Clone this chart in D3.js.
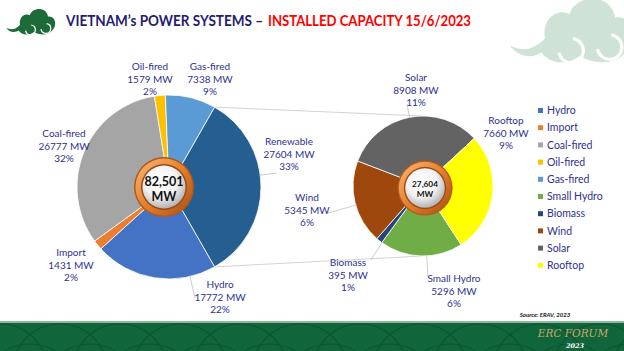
<!DOCTYPE html>
<html>
<head>
<meta charset="utf-8">
<script src="https://cdn.jsdelivr.net/npm/d3@7"></script>
<style>
  html, body { margin: 0; padding: 0; background: #fff; }
  svg { display: block; font-family: Lato, "Open Sans", sans-serif; }
</style>
</head>
<body>
<svg id="chart" width="624" height="351"></svg>
<script>
// main pie
const mainNames = ["Hydro", "Import", "Coal-fired", "Oil-fired", "Gas-fired", "Renewable"];
const mainValues = [17772, 1431, 26777, 1579, 7338, 27604];
const mainPercents = ["22%", "2%", "32%", "2%", "9%", "33%"];

// renewable breakdown
const subNames = ["Small Hydro", "Biomass", "Wind", "Solar", "Rooftop"];
const subValues = [5296, 395, 5345, 8908, 7660];
const subPercents = ["6%", "1%", "6%", "11%", "9%"];

const legendNames = ["Hydro", "Import", "Coal-fired", "Oil-fired", "Gas-fired",
  "Small Hydro", "Biomass", "Wind", "Solar", "Rooftop"];

const totalLabel = ["82,501", "MW"];
const subTotalLabel = ["27,604", "MW"];

const colors = {
  "Hydro": "#4472c4", "Import": "#ed7d31", "Coal-fired": "#a5a5a5", "Oil-fired": "#ffc000",
  "Gas-fired": "#5b9bd5", "Renewable": "#255e91", "Small Hydro": "#70ad47",
  "Biomass": "#264478", "Wind": "#9e480e", "Solar": "#636363", "Rooftop": "#ffff00"
};

// label placement (layout only)
const labelPos = {
  "Oil-fired": [150, 66], "Gas-fired": [210, 66], "Coal-fired": [64, 133],
  "Renewable": [289, 141], "Import": [71, 252], "Hydro": [220, 284],
  "Wind": [307, 197], "Solar": [416, 77], "Rooftop": [506, 120],
  "Biomass": [348, 262], "Small Hydro": [454, 278]
};
const leaderFrom = {
  "Renewable": [277, 173], "Hydro": [195, 298], "Wind": [328, 213],
  "Solar": [407, 104], "Biomass": [371, 260], "Small Hydro": [428, 279]
};

const navy = "#2e3192";
const svg = d3.select("#chart");
const defs = svg.append("defs");

// ---------- background decorations ----------
function cloud(g, fill) {
  g.append("path")
    .attr("d", "M0,34 C8,38 14,36 20,30 C18,20 26,12 34,16 C38,4 58,4 60,18 C70,16 74,30 66,38 C60,46 46,44 40,40 C32,46 22,44 18,38 C12,42 4,40 0,34 Z")
    .attr("fill", fill);
  g.append("path").attr("d", "M28,38 A7,7 0 1 0 36,30").attr("fill", "none").attr("stroke", "#fff").attr("stroke-width", 1.8);
  g.append("path").attr("d", "M50,36 A7,7 0 1 0 58,28").attr("fill", "none").attr("stroke", "#fff").attr("stroke-width", 1.8);
}
cloud(svg.append("g").attr("transform", "translate(6,4) scale(0.7)"), "#1c6b38");
cloud(svg.append("g").attr("transform", "translate(510,-14) scale(1.75)"), "#cfe2d6");

// title
svg.append("text").attr("x", 66).attr("y", 26)
  .attr("textLength", 197).attr("lengthAdjust", "spacingAndGlyphs")
  .style("font-size", "15px").style("font-weight", "700").attr("fill", "#1f2170")
  .text("VIETNAM\u2019s POWER SYSTEMS \u2013");
svg.append("text").attr("x", 268).attr("y", 26)
  .attr("textLength", 203).attr("lengthAdjust", "spacingAndGlyphs")
  .style("font-size", "15px").style("font-weight", "700").attr("fill", "#ff0000")
  .text("INSTALLED CAPACITY 15/6/2023");

// footer band
const footClip = defs.append("clipPath").attr("id", "foot");
footClip.append("rect").attr("x", 0).attr("y", 323).attr("width", 624).attr("height", 28);
svg.append("rect").attr("x", 0).attr("y", 321).attr("width", 624).attr("height", 2).attr("fill", "#8db89b");
svg.append("rect").attr("x", 0).attr("y", 323).attr("width", 624).attr("height", 28).attr("fill", "#11653a");
const pat = svg.append("g").attr("clip-path", "url(#foot)");
d3.range(-1, 12).forEach(i => {
  pat.append("circle").attr("cx", i * 60).attr("cy", 372).attr("r", 48)
    .attr("fill", "none").attr("stroke", "#0b5530").attr("stroke-width", 1.2);
  pat.append("circle").attr("cx", i * 60 + 30).attr("cy", 392).attr("r", 48)
    .attr("fill", "none").attr("stroke", "#0b5530").attr("stroke-width", 1.2);
});
svg.append("text").attr("x", 573).attr("y", 337).attr("text-anchor", "middle")
  .style("font-family", "'DejaVu Serif', serif").style("font-style", "italic")
  .style("font-size", "10.5px").attr("fill", "#c9a86a").text("ERC FORUM");
svg.append("text").attr("x", 575).attr("y", 348).attr("text-anchor", "middle")
  .style("font-family", "'DejaVu Serif', serif").style("font-style", "italic").style("font-weight", "700")
  .style("font-size", "6.5px").attr("fill", "#ffffff").text("2023");

svg.append("text").attr("x", 545).attr("y", 317).attr("text-anchor", "middle")
  .style("font-size", "6px").style("font-style", "italic").style("font-weight", "700")
  .attr("fill", "#111").text("Source: ERAV, 2023");

// ---------- pies ----------
const main = { cx: 169, cy: 187, r: 92 };
const sub = { cx: 423, cy: 186, r: 70 };

const mainData = mainNames.map((n, i) => ({ name: n, value: mainValues[i], pct: mainPercents[i] }));
const subData = subNames.map((n, i) => ({ name: n, value: subValues[i], pct: subPercents[i] }));

// renewable slice centred on the right side
const renewShare = mainValues[5] / d3.sum(mainValues) * 2 * Math.PI;
const mainStart = Math.PI / 2 + renewShare / 2;
const mainArcs = d3.pie().sort(null).value(d => d.value)
  .startAngle(mainStart).endAngle(mainStart + 2 * Math.PI)(mainData);

const subStart = 147 * Math.PI / 180;
const subArcs = d3.pie().sort(null).value(d => d.value)
  .startAngle(subStart).endAngle(subStart + 2 * Math.PI)(subData);

const polar = (c, a, r) => [c.cx + r * Math.sin(a), c.cy - r * Math.cos(a)];

// connector lines between the pies
const renew = mainArcs[5];
const pTop = polar(main, renew.startAngle, main.r);
const pBot = polar(main, renew.endAngle, main.r);
svg.append("line").attr("x1", pTop[0]).attr("y1", pTop[1]).attr("x2", sub.cx).attr("y2", sub.cy - sub.r)
  .attr("stroke", "#c8c8c8").attr("stroke-width", 0.8);
svg.append("line").attr("x1", pBot[0]).attr("y1", pBot[1]).attr("x2", sub.cx).attr("y2", sub.cy + sub.r)
  .attr("stroke", "#c8c8c8").attr("stroke-width", 0.8);

function drawPie(c, arcs) {
  const arc = d3.arc().innerRadius(0).outerRadius(c.r);
  svg.append("g").attr("transform", `translate(${c.cx},${c.cy})`)
    .selectAll("path").data(arcs).join("path")
    .attr("d", arc)
    .attr("fill", d => colors[d.data.name])
    .attr("stroke", "#fff").attr("stroke-width", 0.8);
}
drawPie(main, mainArcs);
drawPie(sub, subArcs);

// leader lines
function leaders(c, arcs) {
  arcs.forEach(d => {
    const from = leaderFrom[d.data.name];
    if (!from) return;
    let a = Math.atan2(from[0] - c.cx, -(from[1] - c.cy));
    while (a < d.startAngle) a += 2 * Math.PI;
    while (a > d.endAngle) a -= 2 * Math.PI;
    a = Math.max(d.startAngle, Math.min(d.endAngle, a));
    const to = polar(c, a, c.r - 1);
    svg.append("line").attr("x1", from[0]).attr("y1", from[1]).attr("x2", to[0]).attr("y2", to[1])
      .attr("stroke", "#bfbfbf").attr("stroke-width", 0.8);
  });
}
leaders(main, mainArcs);
leaders(sub, subArcs);

// data labels
const fmt = d3.format("d");
function labels(arcs) {
  arcs.forEach(d => {
    const p = labelPos[d.data.name];
    const t = svg.append("text").attr("text-anchor", "middle")
      .style("font-size", "10px").attr("fill", navy);
    [d.data.name, `${fmt(d.data.value)} MW`, d.data.pct].forEach((s, i) => {
      t.append("tspan").attr("x", p[0]).attr("y", p[1] + 4 + i * 12.6).text(s);
    });
  });
}
labels(mainArcs);
labels(subArcs);

// centre badges
const rg = defs.append("linearGradient").attr("id", "ring").attr("x1", "0").attr("y1", "0").attr("x2", "1").attr("y2", "1");
rg.append("stop").attr("offset", "0").attr("stop-color", "#f8b978");
rg.append("stop").attr("offset", "0.5").attr("stop-color", "#e47f2c");
rg.append("stop").attr("offset", "1").attr("stop-color", "#a84e14");
const sg = defs.append("radialGradient").attr("id", "ball").attr("cx", "0.42").attr("cy", "0.35").attr("r", "0.7");
sg.append("stop").attr("offset", "0").attr("stop-color", "#ffffff");
sg.append("stop").attr("offset", "0.55").attr("stop-color", "#f2f2f2");
sg.append("stop").attr("offset", "1").attr("stop-color", "#a9a9a9");

function badge(x, y, s, lines, fs) {
  const g = svg.append("g").attr("transform", `translate(${x},${y}) scale(${s})`);
  g.append("circle").attr("r", 30).attr("fill", "#b5581a");
  g.append("circle").attr("r", 28.5).attr("fill", "url(#ring)");
  g.append("circle").attr("r", 23).attr("fill", "#9c4a15");
  g.append("circle").attr("r", 21.5).attr("fill", "url(#ball)");
  const t = g.append("text").attr("text-anchor", "middle").style("font-weight", "700")
    .style("font-size", fs + "px").attr("fill", "#111");
  lines.forEach((s2, i) => t.append("tspan").attr("x", 0).attr("y", (i === 0 ? -1.5 : fs + 1)).text(s2));
}
badge(164, 187, 1, totalLabel, 12.5);
badge(425, 188, 0.92, subTotalLabel, 9);

// legend
const leg = svg.append("g");
legendNames.forEach((n, i) => {
  const y = 110.5 + i * 17.2;
  leg.append("rect").attr("x", 538).attr("y", y - 2.5).attr("width", 5).attr("height", 5).attr("fill", colors[n]);
  leg.append("text").attr("x", 547).attr("y", y + 3.6).style("font-size", "10.5px").attr("fill", navy).text(n);
});
</script>
</body>
</html>
